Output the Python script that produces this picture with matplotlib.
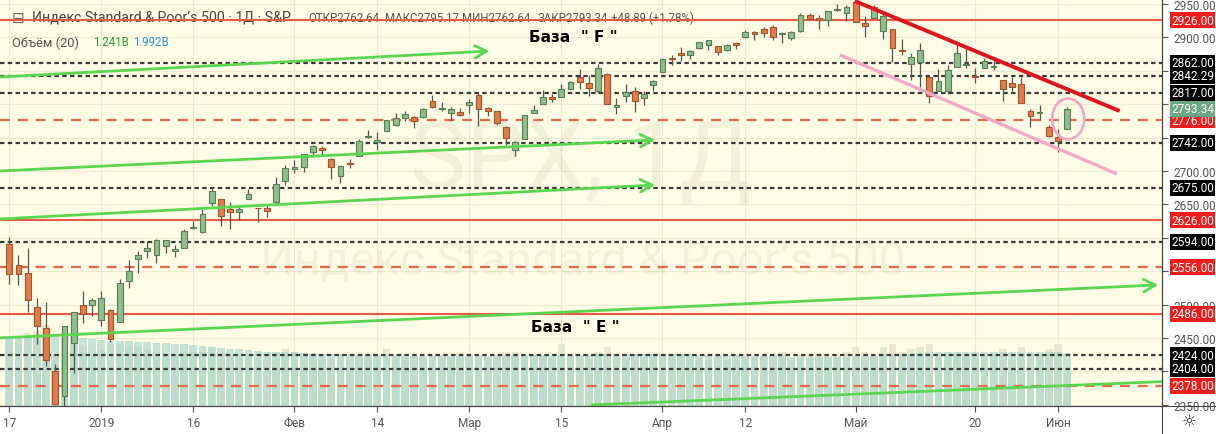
import numpy as np
import pandas as pd
import matplotlib
matplotlib.use("Agg")
import matplotlib.pyplot as plt
import matplotlib.transforms as mtransforms
from matplotlib.patches import Ellipse
from matplotlib.lines import Line2D

# ---------------- data (S&P 500 daily, 17 Dec 2018 .. 4 Jun 2019) ----------------
opens = [2590.75, 2559.90, 2547.05, 2496.77, 2465.38, 2400.56, 2363.12, 2442.50, 2498.77, 2498.94,
         2476.96, 2491.92, 2474.33, 2535.61, 2568.11, 2580.00, 2573.51, 2588.11, 2580.31, 2585.10,
         2614.75, 2609.28, 2651.27, 2657.88, 2643.48, 2638.84, 2657.44, 2644.97, 2644.89, 2653.62, 2685.49,
         2702.32, 2706.49, 2728.34, 2735.05, 2717.53, 2692.36, 2712.40, 2722.61, 2750.30, 2743.50,
         2760.24, 2769.28, 2779.05, 2780.24, 2780.67, 2804.35, 2792.36, 2787.50, 2788.11,
         2798.22, 2814.37, 2794.41, 2790.27, 2766.53, 2730.79, 2747.61, 2787.34, 2799.78, 2810.38,
         2810.79, 2822.61, 2840.76, 2831.34, 2819.72, 2844.52, 2796.01, 2812.66, 2819.72, 2809.40, 2828.27,
         2848.63, 2868.24, 2876.09, 2873.99, 2884.16, 2888.46, 2886.58, 2881.37, 2891.92, 2900.86,
         2908.32, 2912.26, 2916.04, 2904.81, 2898.78, 2909.99, 2934.00, 2928.99, 2925.81, 2940.58, 2937.14,
         2952.33, 2922.16, 2929.21, 2908.89, 2913.03, 2879.61, 2859.84, 2863.10, 2840.19, 2820.12,
         2820.38, 2855.80, 2858.60, 2841.94, 2854.02, 2856.06, 2836.70, 2832.41, 2830.03, 2790.25,
         2786.94, 2766.15, 2751.53, 2762.64]
highs = [2601.13, 2573.99, 2585.29, 2509.63, 2504.41, 2410.34, 2467.76, 2489.10, 2520.27, 2509.24,
         2519.49, 2493.14, 2538.07, 2566.16, 2579.82, 2595.32, 2597.82, 2596.27, 2589.32, 2613.08,
         2625.76, 2645.06, 2675.47, 2657.88, 2653.19, 2647.20, 2672.38, 2644.97, 2650.93, 2690.44, 2708.95,
         2716.66, 2724.99, 2738.98, 2738.08, 2719.32, 2708.07, 2718.05, 2748.19, 2761.85, 2757.90,
         2775.66, 2787.33, 2789.88, 2781.58, 2794.20, 2813.49, 2803.12, 2795.76, 2793.73,
         2808.02, 2816.88, 2796.44, 2790.27, 2767.25, 2744.13, 2783.81, 2798.32, 2821.24, 2815.00,
         2830.73, 2835.41, 2852.42, 2843.54, 2860.31, 2846.16, 2809.79, 2829.87, 2825.56, 2819.71, 2836.03,
         2869.40, 2872.90, 2885.25, 2881.28, 2893.24, 2895.95, 2886.88, 2889.71, 2893.42, 2910.54,
         2909.60, 2916.06, 2918.00, 2908.40, 2909.51, 2936.31, 2936.83, 2933.10, 2939.88, 2949.52, 2948.22,
         2954.13, 2931.68, 2947.85, 2937.32, 2913.03, 2897.96, 2875.97, 2891.31, 2840.19, 2852.54,
         2858.68, 2892.15, 2885.48, 2853.86, 2868.88, 2865.47, 2836.70, 2841.36, 2840.51, 2792.03,
         2799.00, 2768.98, 2763.07, 2795.17]
lows = [2530.54, 2528.71, 2488.96, 2441.18, 2408.55, 2351.10, 2346.58, 2397.94, 2472.89, 2482.82,
        2467.47, 2443.96, 2474.33, 2524.56, 2547.56, 2568.89, 2562.02, 2577.40, 2570.41, 2585.10,
        2612.68, 2606.36, 2647.58, 2617.27, 2612.86, 2627.01, 2657.33, 2624.06, 2631.05, 2648.34, 2678.65,
        2696.88, 2698.75, 2724.03, 2724.15, 2687.26, 2681.83, 2703.79, 2722.61, 2748.63, 2731.23,
        2760.24, 2767.29, 2774.06, 2764.55, 2779.11, 2794.99, 2789.47, 2775.13, 2782.51,
        2787.38, 2767.66, 2782.97, 2768.69, 2739.09, 2722.27, 2747.61, 2786.73, 2799.78, 2803.46,
        2810.79, 2821.99, 2823.27, 2812.43, 2817.38, 2800.47, 2785.02, 2803.99, 2787.72, 2798.77, 2819.23,
        2848.63, 2858.75, 2865.17, 2867.14, 2882.99, 2880.78, 2873.33, 2879.13, 2881.99, 2898.37,
        2896.48, 2900.71, 2895.45, 2891.90, 2896.35, 2908.53, 2926.05, 2912.84, 2917.56, 2939.35, 2924.11,
        2923.36, 2900.50, 2929.21, 2898.21, 2862.60, 2873.28, 2836.40, 2825.39, 2801.43, 2820.12,
        2815.08, 2855.80, 2854.23, 2831.29, 2854.02, 2851.11, 2805.49, 2820.19, 2801.58, 2766.06,
        2776.74, 2750.52, 2728.81, 2762.64]
closes = [2545.94, 2546.16, 2506.96, 2467.42, 2416.62, 2351.10, 2467.70, 2488.83, 2485.74, 2506.85,
          2510.03, 2447.89, 2531.94, 2549.69, 2574.41, 2584.96, 2596.64, 2596.26, 2582.61, 2610.30,
          2616.10, 2635.96, 2670.71, 2632.90, 2638.70, 2642.33, 2664.76, 2643.85, 2640.00, 2681.05, 2704.10,
          2706.53, 2724.87, 2737.70, 2731.61, 2706.05, 2707.88, 2709.80, 2744.73, 2753.03, 2745.73,
          2775.60, 2779.76, 2784.70, 2774.88, 2792.67, 2796.11, 2793.90, 2792.38, 2784.49,
          2803.69, 2792.81, 2789.65, 2771.45, 2748.93, 2743.07, 2783.30, 2791.52, 2810.92, 2808.48,
          2822.48, 2832.94, 2832.57, 2824.23, 2854.88, 2800.71, 2798.36, 2818.46, 2805.37, 2815.44, 2834.40,
          2867.19, 2867.24, 2873.40, 2879.39, 2892.74, 2895.77, 2878.20, 2888.21, 2888.32, 2907.41,
          2905.58, 2907.06, 2900.45, 2905.03, 2907.97, 2933.68, 2927.25, 2926.17, 2939.88, 2943.03, 2945.83,
          2923.73, 2917.52, 2945.64, 2932.47, 2884.05, 2879.42, 2870.72, 2881.40, 2811.87, 2834.41,
          2850.96, 2876.32, 2859.53, 2840.23, 2864.36, 2856.27, 2822.24, 2826.06, 2802.39, 2783.02,
          2788.86, 2752.06, 2744.45, 2793.34]
volumes_b = [2.5, 2.6, 2.7, 2.8, 3.0, 1.9, 2.5, 2.6, 2.2, 1.9,
             2.1, 2.3, 2.3, 2.2, 2.2, 2.1, 2.0, 1.9, 1.9, 2.0,
             2.0, 2.0, 2.2, 1.9, 1.9, 1.8, 1.9, 1.8, 1.8, 2.0, 2.1,
             2.0, 1.9, 1.9, 1.8, 1.8, 1.9, 1.7, 1.8, 1.8, 1.8,
             2.1, 1.8, 1.8, 1.8, 1.8, 1.9, 1.9, 1.8, 2.0,
             1.9, 1.9, 1.8, 1.9, 2.0, 2.0, 1.9, 1.9, 1.9, 1.8,
             2.3, 1.9, 1.9, 1.9, 2.0, 2.2, 1.9, 1.8, 1.9, 1.8, 1.9,
             1.9, 1.8, 1.9, 1.8, 1.8, 1.7, 1.8, 1.7, 1.7, 1.8,
             1.8, 1.8, 1.9, 2.0, 1.7, 1.9, 1.9, 1.9, 1.9, 1.9, 2.0,
             2.2, 2.0, 1.8, 2.2, 2.3, 2.0, 2.1, 2.2, 2.3, 1.9,
             1.9, 1.9, 1.9, 1.8, 1.8, 1.8, 2.1, 1.7, 2.2, 1.9,
             1.9, 2.1, 2.3, 1.241]

x_tick_idx = [0, 10, 20, 31, 40, 50, 60, 71, 80, 92, 105, 114]
x_tick_labels = ["17", "2019", "16", "Фев", "14", "Мар", "15", "Апр", "12", "Май", "20", "Июн"]
y_tick_values = [2350, 2400, 2450, 2500, 2550, 2600, 2650, 2700, 2750, 2800, 2850, 2900, 2950]
y_tick_hidden = [2400, 2550, 2600, 2750, 2800, 2850]   # covered by level labels

solid_red_levels = [2926.0, 2626.0, 2486.0]
dashed_red_levels = [2776.0, 2556.0, 2378.0]
dotted_levels = [2862.0, 2842.29, 2817.0, 2742.0, 2675.0, 2594.0, 2424.0, 2404.0]
last_price = 2793.34

header_title = "Индекс Standard & Poor’s 500 · 1Д · S&P"
ohlc_items = ["ОТКР2762.64", "МАКС2795.17", "МИН2762.64", "ЗАКР2793.34", "+48.89 (+1.78%)"]
volume_items = ["Объём (20)", "1.241B", "1.992B"]

# user-drawn trend lines: ((bar index, price), (bar index, price))
green_arrows = [((-1.0, 2840.7), (52.2, 2879.6)),
                ((-1.0, 2700.0), (70.2, 2746.4)),
                ((-1.0, 2628.1), (70.2, 2679.0)),
                ((-1.0, 2450.0), (124.9, 2529.3))]
green_line = ((63.4, 2349.7), (125.3, 2384.5))
red_trend = ((91.9, 2954.5), (120.7, 2789.8))
pink_trend = ((90.3, 2873.7), (120.4, 2695.5))
circle_center = (115.1, 2778.0)

# ---------------- figure ----------------
W, H = 1216, 435
fig = plt.figure(figsize=(W / 100, H / 100), dpi=100)
fig.patch.set_facecolor("white")
PLOT_R = 1162
PLOT_B = 407
ax = fig.add_axes([0, (H - PLOT_B) / H, PLOT_R / W, PLOT_B / H])
ax.set_facecolor("#fffde6")
ax.set_xlim(-1.01, 125.3)
ax.set_ylim(2348, 2957.5)
ax.set_axisbelow(True)

n = len(closes)
idx = np.arange(n)
FONT = ["Roboto", "DejaVu Sans"]

# ticks + grid
ax.set_xticks(x_tick_idx)
ax.set_xticklabels(x_tick_labels)
ax.set_yticks(y_tick_values)
ax.set_yticklabels(["" if v in y_tick_hidden else f"{v:.2f}" for v in y_tick_values])
ax.yaxis.tick_right()
ax.grid(True, color="#ecead3", lw=0.8)
ax.tick_params(axis="both", colors="#555555", labelsize=8.5, length=4, width=0.8)
ax.tick_params(axis="x", pad=3)
ax.tick_params(axis="y", pad=4)
for lab in ax.get_xticklabels() + ax.get_yticklabels():
    lab.set_fontfamily(FONT)
for s in ["top", "left"]:
    ax.spines[s].set_visible(False)
ax.spines["bottom"].set_color("#444444")
ax.spines["right"].set_color("#444444")

# volume (inset sharing x)
axv = ax.inset_axes([0, 0, 1, 1], sharex=ax)
axv.set_zorder(0.8)
axv.patch.set_visible(False)
axv.axis("off")
axv.set_ylim(0, 15.1)
vol = pd.Series(volumes_b)
vol_ma = vol.rolling(20, min_periods=1).mean()
up = np.array(closes) >= np.array(opens)
vcols = np.where(up, "#e0e8c8", "#ece6cb")
axv.bar(idx, volumes_b, width=0.8, color=vcols, alpha=0.9, lw=0)
axv.bar(idx, vol_ma, width=0.85, color="#a3d5cd", alpha=0.62, lw=0)
axv.set_xlim(-1.01, 125.3)

# horizontal levels
for lv in solid_red_levels:
    ax.axhline(lv, color="#e85a45", lw=1.5, zorder=3)
for lv in dashed_red_levels:
    ax.axhline(lv, color="#e8674d", lw=1.6, ls=(0, (4.5, 3.5)), zorder=3)
for lv in dotted_levels:
    ax.axhline(lv, color="#3a3a3a", lw=1.6, ls=(0, (2, 1.5)), zorder=3)

# candles
o = np.array(opens); c = np.array(closes); h = np.array(highs); l = np.array(lows)
body_lo = np.minimum(o, c)
body_h = np.maximum(np.abs(c - o), 1.2)
ax.vlines(idx, l, h, color="#555555", lw=0.9, zorder=4)
ax.bar(idx[up], body_h[up], bottom=body_lo[up], width=0.62, color="#8fbd8b",
       edgecolor="#557f55", lw=0.8, zorder=5)
ax.bar(idx[~up], body_h[~up], bottom=body_lo[~up], width=0.62, color="#e07b4c",
       edgecolor="#a4532c", lw=0.8, zorder=5)

# trend lines
for (p0, p1) in green_arrows:
    ax.annotate("", xy=p1, xytext=p0,
                arrowprops=dict(arrowstyle="->,head_length=0.85,head_width=0.45",
                                color="#5ad64f", lw=2, shrinkA=0, shrinkB=0),
                zorder=6, annotation_clip=False)
ax.plot([green_line[0][0], green_line[1][0]], [green_line[0][1], green_line[1][1]],
        color="#5ad64f", lw=2, zorder=6)
ax.plot([red_trend[0][0], red_trend[1][0]], [red_trend[0][1], red_trend[1][1]],
        color="#e0141e", lw=2.8, zorder=6, solid_capstyle="butt")
ax.plot([pink_trend[0][0], pink_trend[1][0]], [pink_trend[0][1], pink_trend[1][1]],
        color="#f4a8c8", lw=2.4, zorder=6, solid_capstyle="butt")
ax.add_patch(Ellipse(circle_center, 3.5, 61, fill=False, ec="#f4a8c8", lw=2, zorder=6))

# annotations
ax.text(61.3, 2900.6, "База  \" F \"", ha="center", va="center", fontsize=11, fontweight="bold",
        family=["Liberation Sans Narrow", "DejaVu Sans"], color="black", zorder=7)
ax.text(61.5, 2466.5, "База  \" E \"", ha="center", va="center", fontsize=11, fontweight="bold",
        family=["Liberation Sans Narrow", "DejaVu Sans"], color="black", zorder=7)

def fx(x):
    return x / W

def fy(y):
    return 1 - y / H

# watermarks
wm = (0.35, 0.35, 0.25, 0.07)
ax.text(fx(581), fy(162), "SPX, 1Д", transform=fig.transFigure, ha="center", va="center",
        fontsize=68, color=wm, family=FONT, zorder=1)
ax.text(fx(583), fy(262), "Индекс Standard & Poor’s 500", transform=fig.transFigure,
        ha="center", va="center", fontsize=34, color=wm, family=FONT, zorder=1)

# header
ax.text(fx(18), fy(18), "⊟", transform=fig.transFigure, ha="center", va="center",
        fontsize=11, color="#666666", zorder=2, family=["DejaVu Sans"])
ax.text(fx(32), fy(18), header_title, transform=fig.transFigure,
        ha="left", va="center", fontsize=10.2, color="#444444", zorder=2, family=FONT)
for xs, s in zip([308, 385, 462, 538, 611], ohlc_items):
    ax.text(fx(xs), fy(18), s, transform=fig.transFigure, ha="left", va="center",
            fontsize=8.3, color="#555555", zorder=2, family=FONT)
for xs, s, col, fs in zip([12, 93, 133], volume_items, ["#555555", "#2e9a3e", "#2f8fd8"],
                          [9.3, 8.3, 8.3]):
    ax.text(fx(xs), fy(43), s, transform=fig.transFigure, ha="left", va="center",
            fontsize=fs, color=col, zorder=2, family=FONT)

# right-side price labels
blend = mtransforms.blended_transform_factory(ax.transAxes, ax.transData)
lab_x = 1 + 9 / PLOT_R
labels = [(lv, "#f01c1c") for lv in solid_red_levels + dashed_red_levels] + \
         [(lv, "#000000") for lv in dotted_levels] + [(last_price, "#6aa782")]
for lv, col in labels:
    ax.text(lab_x, lv, f"{lv:.2f}", transform=blend, ha="left", va="center", fontsize=8.5,
            color="white", family=FONT, clip_on=False, zorder=20,
            bbox=dict(boxstyle="square,pad=0.12", fc=col, ec="none"))

# frame lines extending into axis areas
fig.add_artist(Line2D([fx(PLOT_R), fx(PLOT_R)], [0, 1], color="#444444", lw=0.8))
fig.add_artist(Line2D([0, 1], [fy(PLOT_B), fy(PLOT_B)], color="#444444", lw=0.8))
fig.text(fx(1189), fy(422), "☼", ha="center", va="center", fontsize=12, color="#333333")

fig.savefig("out.png", dpi=100, facecolor="white")
